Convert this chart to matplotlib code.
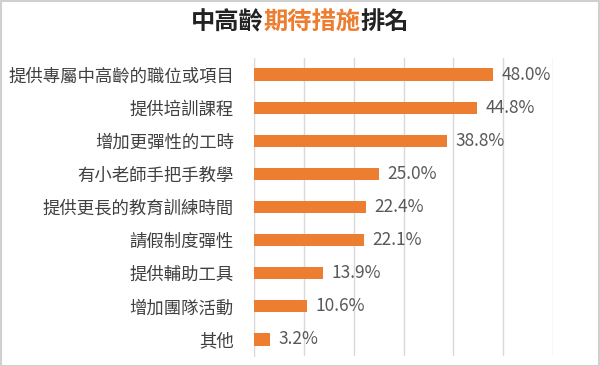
import matplotlib
matplotlib.use("Agg")
import matplotlib.pyplot as plt
from matplotlib.patches import Rectangle

plt.rcParams['font.family'] = ['Noto Sans CJK TC', 'DejaVu Sans']

categories = ["提供專屬中高齡的職位或項目", "提供培訓課程", "增加更彈性的工時", "有小老師手把手教學",
              "提供更長的教育訓練時間", "請假制度彈性", "提供輔助工具", "增加團隊活動", "其他"]
values = [48.0, 44.8, 38.8, 25.0, 22.4, 22.1, 13.9, 10.6, 3.2]
title_parts = [("中高齡", "#222222"), ("期待措施", "#ED7D31"), ("排名", "#222222")]

W, H = 600, 366
fig = plt.figure(figsize=(W/100, H/100), dpi=100)
ax = fig.add_axes([254/W, 1-356/H, (553-254)/W, (356-58)/H])

n = len(categories)
ypos = list(range(n))
ax.barh(ypos, values, height=0.37, color="#ED7D31", zorder=3)
ax.set_ylim(n-0.5, -0.5)
ax.set_xlim(0, 60)
ax.set_xticks(range(0, 61, 10))
ax.grid(axis='x', color="#D9D9D9", linewidth=1, zorder=0)
ax.tick_params(axis='x', bottom=False, labelbottom=False)
ax.set_yticks(ypos)
ax.set_yticklabels(categories, fontsize=12.5, color="#404040")
ax.tick_params(axis='y', length=0, pad=14.5)
for s in ['top', 'right', 'bottom']:
    ax.spines[s].set_visible(False)
ax.spines['left'].set_color("#D9D9D9")
ax.set_facecolor('none')

for y, v in zip(ypos, values):
    ax.text(v + 1.7, y, f"{v:.1f}%", va='center', ha='left', fontsize=12.5, color="#595959")

# title
fig.canvas.draw()
r = fig.canvas.get_renderer()
texts = []
for s, c in title_parts:
    texts.append(fig.text(0, 1-22/H, s, fontsize=17.5, fontweight='bold', color=c, va='center', ha='left'))
widths = [t.get_window_extent(r).width for t in texts]
total = sum(widths)
x = W/2 - total/2
for t, w in zip(texts, widths):
    t.set_x(x/W)
    x += w

fig.patches.append(Rectangle((0.5/W, 0.5/H), (W-1.5)/W, (H-1.5)/H, transform=fig.transFigure,
                             fill=False, edgecolor="#D0D0D0", linewidth=1.5))
fig.savefig("out.png", dpi=100)
